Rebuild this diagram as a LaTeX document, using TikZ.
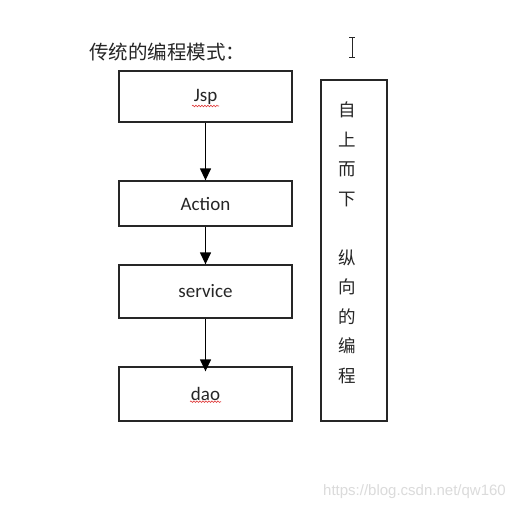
\documentclass[tikz,border=0pt]{standalone}
\usepackage{fontspec}
\setmainfont{Carlito}
\newfontfamily\cjk{Noto Sans CJK SC}
\newfontfamily\urlfont{Liberation Sans}
\usetikzlibrary{arrows.meta,decorations.pathmorphing}
\definecolor{linecolor}{HTML}{262626}
\definecolor{squigglecolor}{HTML}{E03A3A}
\colorlet{markcolor}{black!14}
\tikzstyle{layer} = [
    draw=linecolor,
    line width=1.3pt,
    rectangle,
    minimum width=173pt,
    inner sep=0pt,
    text=linecolor,
    font=\fontsize{19}{19}\selectfont
    ]
\tikzstyle{flow} = [
    draw=black,
    line width=1.3pt,
    -{Triangle[length=12pt,width=11pt]}
    ]
\tikzstyle{squig} = [
    draw=squigglecolor,
    line width=0.6pt,
    decorate,
    decoration={snake, amplitude=0.8pt, segment length=3pt}
    ]

\begin{document}
\begin{tikzpicture}[x=1pt,y=-1pt]
\useasboundingbox[fill=white] (0,0) rectangle (517,509);
\node[anchor=west, inner sep=0pt, text=linecolor, font=\cjk\fontsize{19.5}{19.5}\selectfont] (title) at (89,52) {传统的编程模式：};
% the four layers
\node[layer, minimum height=51pt] (jsp) at (205.5,96.5) {Jsp};
\node[layer, minimum height=45pt] (action) at (205.5,203.5) {Action};
\node[layer, minimum height=53pt] (service) at (205.5,291.5) {service};
\node[layer, minimum height=54pt] (dao) at (205.5,394) {dao};
\draw[flow] (jsp) -- (action);
\draw[flow] (action) -- (service);
\draw[flow, shorten >=-5pt] (service) -- (dao);
\draw[squig] ([xshift=-13.5pt,yshift=-9.5pt]jsp.center) -- ([xshift=13.5pt,yshift=-9.5pt]jsp.center);
\draw[squig] ([xshift=-15.5pt,yshift=-7.7pt]dao.center) -- ([xshift=15.5pt,yshift=-7.7pt]dao.center);
% side note
\node[layer, minimum width=66pt, minimum height=341pt] (side) at (354,250.5) {};
\node[align=center, inner sep=0pt, text=linecolor, font=\cjk\fontsize{17.5}{29.5}\selectfont] (sidetext) at (347,243) {自\\上\\而\\下\\[29.5pt]纵\\向\\的\\编\\程};
% text cursor
\draw[linecolor, line width=0.9pt] (352,38) -- (352,57)
    (349,37.5) -- (355,37.5) (349,57.5) -- (355,57.5);
\node[anchor=east, inner sep=0pt, text=markcolor, font=\urlfont\fontsize{15}{15}\selectfont] (mark) at (506,492) {https://blog.csdn.net/qw160};
\end{tikzpicture}
\end{document}
